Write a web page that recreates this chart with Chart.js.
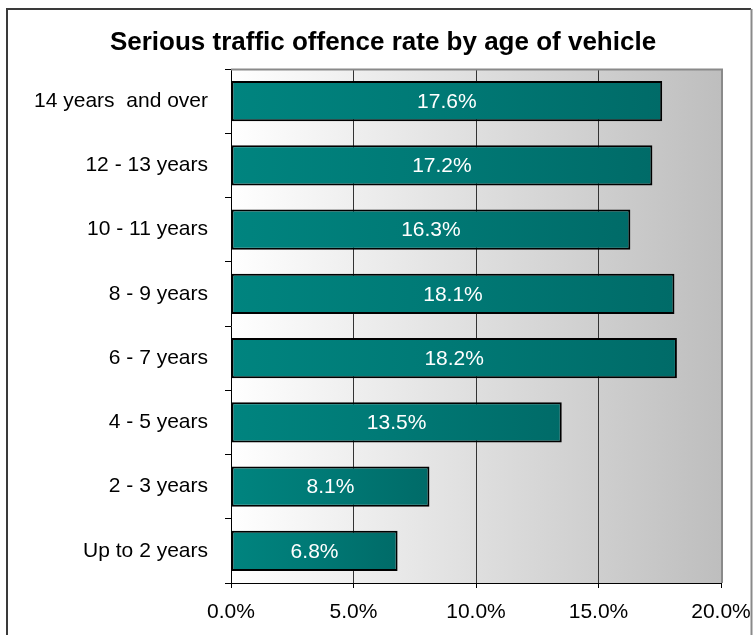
<!DOCTYPE html>
<html>
<head>
<meta charset="utf-8">
<script src="https://cdn.jsdelivr.net/npm/chart.js@4.4.1/dist/chart.umd.min.js"></script>
<style>
  html, body { margin: 0; padding: 0; background: #fff; }
  #wrap { width: 753px; height: 635px; }
</style>
</head>
<body>
<div id="wrap"><canvas id="my-chart" width="753" height="635"></canvas></div>
<script>
'use strict';

// ******* DATA *******
let chartTitle = 'Serious traffic offence rate by age of vehicle';
let ageGroups = [
  '14 years  and over',
  '12 - 13 years',
  '10 - 11 years',
  '8 - 9 years',
  '6 - 7 years',
  '4 - 5 years',
  '2 - 3 years',
  'Up to 2 years'
];
let offenceRates = [17.6, 17.2, 16.3, 18.1, 18.2, 13.5, 8.1, 6.8];
let rateTicks = [0, 5, 10, 15, 20];

let fontName = '"Liberation Sans", Arial, sans-serif';

// ******* HELPERS *******
function formatPct(v) {
  return Number(v).toFixed(1) + '%';
}

// teal bar fill, lighter on the left
function barFill(ctx) {
  let chart = ctx.chart;
  if (!chart.chartArea || !chart.scales.x) {
    return '#007672';
  }
  let x0 = chart.scales.x.getPixelForValue(0);
  let x1 = chart.scales.x.getPixelForValue(ctx.raw);
  let g = chart.ctx.createLinearGradient(x0, 0, x1, 0);
  g.addColorStop(0, '#00847F');
  g.addColorStop(0.45, '#007A76');
  g.addColorStop(1, '#006B68');
  return g;
}

// ******* PLUGINS *******
let backdropPlugin = {
  id: 'backdrop',
  beforeDraw(chart) {
    let c = chart.ctx;
    let a = chart.chartArea;
    c.save();
    // plot area gradient, white to grey
    let g = c.createLinearGradient(a.left, 0, a.right, 0);
    g.addColorStop(0, '#FFFFFF');
    g.addColorStop(1, '#BEBEBE');
    c.fillStyle = g;
    c.fillRect(a.left, a.top, a.right - a.left, a.bottom - a.top);

    // outer frame (bottom runs off the page)
    c.strokeStyle = '#3A3A3A';
    c.lineWidth = 2;
    c.beginPath();
    c.moveTo(7, 640);
    c.lineTo(7, 9);
    c.lineTo(751, 9);
    c.stroke();
    c.strokeStyle = '#8A8A8A';
    c.beginPath();
    c.moveTo(751.5, 9);
    c.lineTo(751.5, 640);
    c.stroke();

    // title
    c.fillStyle = '#000';
    c.font = 'bold 26px ' + fontName;
    c.textAlign = 'center';
    c.textBaseline = 'middle';
    c.fillText(chartTitle, 383, 43);
    c.restore();
  },
  beforeDatasetsDraw(chart) {
    let c = chart.ctx;
    let a = chart.chartArea;
    c.save();
    c.strokeStyle = '#8A8A8A';
    c.lineWidth = 2;
    c.beginPath();
    c.moveTo(a.left, a.top + 0.5);
    c.lineTo(a.right + 1, a.top + 0.5);
    c.lineTo(a.right + 1, a.bottom);
    c.stroke();
    c.restore();
  },
  afterDatasetsDraw(chart) {
    let c = chart.ctx;
    let meta = chart.getDatasetMeta(0);
    c.save();
    c.fillStyle = '#FFFFFF';
    c.font = '21px ' + fontName;
    c.textAlign = 'center';
    c.textBaseline = 'middle';
    meta.data.forEach(function (bar, i) {
      let cx = (bar.x + bar.base) / 2;
      c.fillText(formatPct(offenceRates[i]), cx, bar.y + 1);
    });
    c.restore();
  }
};

// ******* CHART *******
let canvasElem = document.getElementById('my-chart').getContext('2d');

let myChartObj = {
  type: 'bar',
  data: {
    labels: ageGroups,
    datasets: [{
      label: 'Serious traffic offence rate',
      data: offenceRates,
      backgroundColor: barFill,
      borderColor: '#000000',
      borderWidth: 2,
      borderSkipped: false,
      categoryPercentage: 1,
      barPercentage: 0.63
    }]
  },
  options: {
    indexAxis: 'y',
    responsive: false,
    animation: false,
    devicePixelRatio: 1,
    layout: {
      padding: { top: 69, right: 32, bottom: 0, left: 0 }
    },
    plugins: {
      legend: { display: false },
      title: { display: false },
      tooltip: { enabled: false }
    },
    scales: {
      x: {
        min: rateTicks[0],
        max: rateTicks[rateTicks.length - 1],
        afterBuildTicks(scale) {
          scale.ticks = rateTicks.map(function (v) { return { value: v }; });
        },
        afterFit(scale) {
          scale.height = 52;
          scale.paddingRight = 0;
          scale.paddingLeft = 0;
        },
        grid: {
          color(ctx) {
            let v = ctx.tick ? ctx.tick.value : null;
            if (v === rateTicks[0] || v === rateTicks[rateTicks.length - 1]) {
              return 'rgba(0,0,0,0)';
            }
            return '#333333';
          },
          lineWidth: 1,
          tickColor: '#000000',
          tickLength: 5,
          drawTicks: true
        },
        border: { display: true, color: '#000000', width: 1 },
        ticks: {
          color: '#000000',
          padding: 12,
          maxRotation: 0,
          font: { family: fontName, size: 21 },
          callback(v) { return formatPct(v); }
        }
      },
      y: {
        afterFit(scale) {
          scale.width = 231;
          scale.paddingTop = 0;
          scale.paddingBottom = 0;
        },
        grid: {
          offset: true,
          drawOnChartArea: false,
          drawTicks: true,
          tickLength: 6,
          tickColor: '#000000',
          color: '#000000'
        },
        border: { display: true, color: '#000000', width: 1 },
        ticks: {
          color: '#000000',
          padding: 17,
          autoSkip: false,
          font: { family: fontName, size: 21 }
        }
      }
    }
  },
  plugins: [backdropPlugin]
};

new Chart(canvasElem, myChartObj);
</script>
</body>
</html>
